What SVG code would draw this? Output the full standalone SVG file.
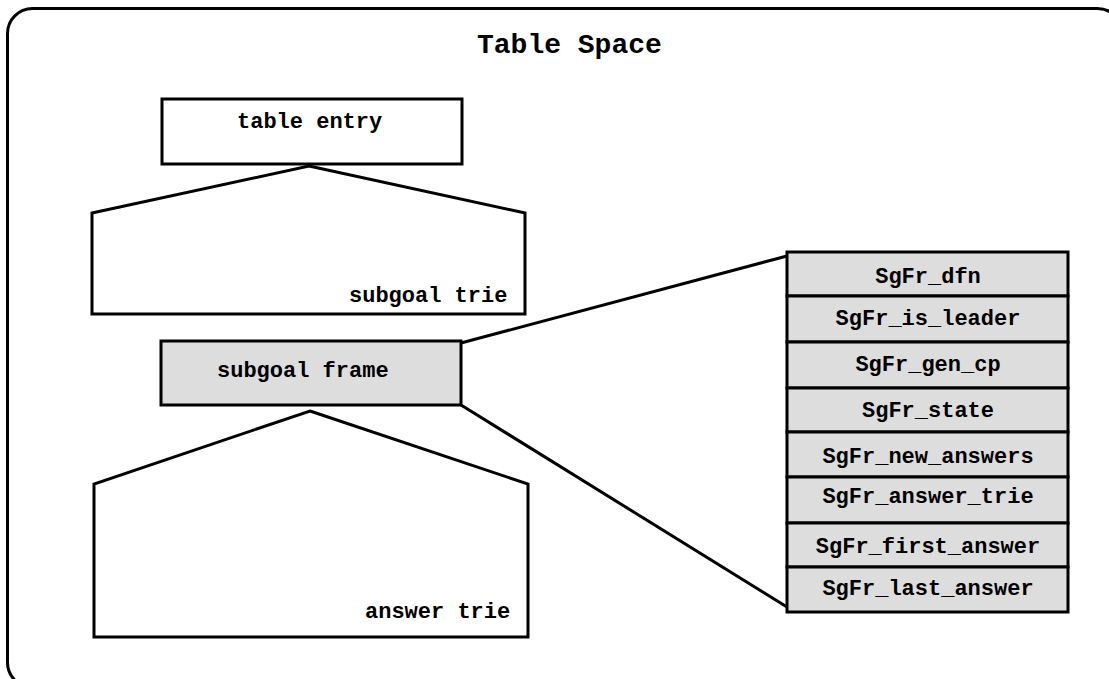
<svg xmlns="http://www.w3.org/2000/svg" width="1109" height="679" viewBox="0 0 1109 679">
<style>
.ln{fill:none;stroke:#000;stroke-width:3;stroke-linejoin:miter}
.box{fill:#fff;stroke:#000;stroke-width:3}
.gbox{fill:#dddddd;stroke:#000;stroke-width:3}
.t{font-family:"Liberation Mono","Courier New",monospace;font-weight:bold;font-size:22px;fill:#000}
.c{text-anchor:middle}
</style>
<rect width="1109" height="679" fill="#fff"/>
<g id="frame">
<rect x="7.5" y="8.5" width="1115" height="679" rx="25" ry="25" class="box"/>
<text x="477" y="53" class="t" style="font-size:28px">Table Space</text>
</g>
<g id="connectors">
<line x1="461" y1="343" x2="787" y2="256" class="ln"/>
<line x1="461" y1="405" x2="787" y2="607" class="ln"/>
</g>
<g id="table-entry">
<rect x="162" y="99" width="300" height="65" class="box"/>
<text x="237" y="128" class="t">table entry</text>
</g>
<g id="subgoal-trie">
<polygon points="309,166 525,213 525,314 92,314 92,213" class="box"/>
<text x="349" y="302" class="t">subgoal trie</text>
</g>
<g id="subgoal-frame">
<rect x="161" y="341" width="300" height="64" class="gbox"/>
<text x="217" y="377" class="t">subgoal frame</text>
</g>
<g id="answer-trie">
<polygon points="310,411 528,484 528,637 94,637 94,484" class="box"/>
<text x="365" y="618" class="t">answer trie</text>
</g>
<g id="subgoal-frame-record">
<rect x="787" y="252" width="281" height="44" class="gbox"/>
<rect x="787" y="296" width="281" height="46" class="gbox"/>
<rect x="787" y="342" width="281" height="46" class="gbox"/>
<rect x="787" y="388" width="281" height="44" class="gbox"/>
<rect x="787" y="432" width="281" height="45" class="gbox"/>
<rect x="787" y="477" width="281" height="46" class="gbox"/>
<rect x="787" y="523" width="281" height="44" class="gbox"/>
<rect x="787" y="567" width="281" height="45" class="gbox"/>
<text x="928" y="283" class="t c">SgFr_dfn</text>
<text x="928" y="325" class="t c">SgFr_is_leader</text>
<text x="928" y="371" class="t c">SgFr_gen_cp</text>
<text x="928" y="417" class="t c">SgFr_state</text>
<text x="928" y="463" class="t c">SgFr_new_answers</text>
<text x="928" y="503" class="t c">SgFr_answer_trie</text>
<text x="928" y="553" class="t c">SgFr_first_answer</text>
<text x="928" y="595" class="t c">SgFr_last_answer</text>
</g>
</svg>
